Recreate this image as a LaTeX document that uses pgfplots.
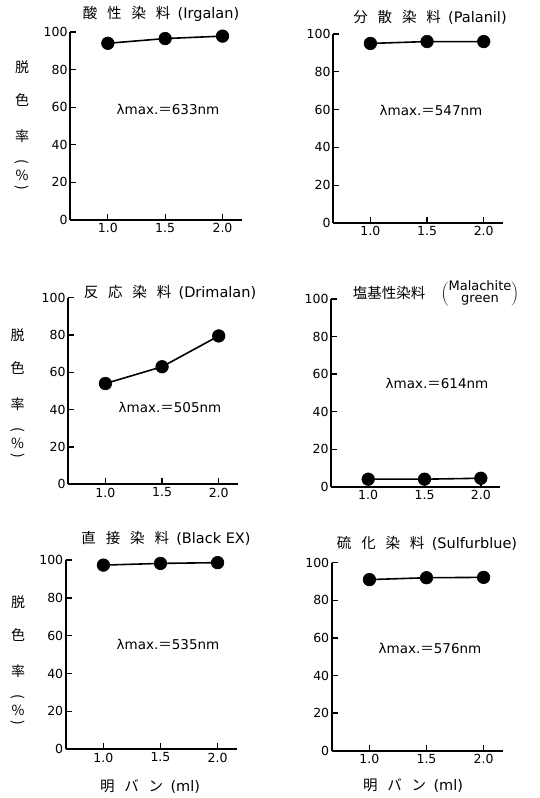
\documentclass[border=0pt]{standalone}
\usepackage{pgfplots}
\pgfplotsset{compat=1.18}
\usepackage{fontspec}
\setmainfont{DejaVu Sans}
\newfontfamily\jp{Noto Sans CJK JP}

\newcommand{\gap}{\hspace{0.68em}}

\pgfplotsset{
  panel/.style={
    scale only axis,
    anchor=south west,
    axis lines*=left,
    axis line style={line width=1.7pt},
    xmin=0.67, xmax=2.17, ymin=0, ymax=100,
    xtick={1,1.5,2}, xticklabels={1.0,1.5,2.0},
    ytick={0,20,...,100},
    tick align=inside,
    major tick length=6pt,
    tick style={line width=1.3pt, black},
    ticklabel style={font=\fontsize{12.5}{13}\selectfont},
    yticklabel style={xshift=1pt},
    /pgf/number format/assume math mode=true,
    clip=false,
  },
  dye/.style={black, line width=1.6pt, mark=*, mark size=6.3pt,
    mark options={fill=black, line width=0.6pt}},
}

\begin{document}
\begin{tikzpicture}
\path[use as bounding box] (0,0) rectangle (539pt,798pt);

% ---- top row ----
\begin{axis}[panel, at={(70pt,578pt)}, width=172pt, height=188pt]
  \addplot[dye] coordinates {(1,94) (1.5,96.5) (2,97.8)};
\end{axis}
\begin{axis}[panel, at={(333pt,575pt)}, width=170pt, height=189pt]
  \addplot[dye] coordinates {(1,95) (1.5,96) (2,96)};
\end{axis}

% ---- middle row ----
\begin{axis}[panel, at={(68pt,313.7pt)}, width=170pt, height=186.6pt]
  \addplot[dye] coordinates {(1,54) (1.5,63) (2,79.5)};
\end{axis}
\begin{axis}[panel, at={(331pt,311.3pt)}, width=169pt, height=187.7pt]
  \addplot[dye] coordinates {(1,4) (1.5,4) (2,4.5)};
\end{axis}

% ---- bottom row ----
\begin{axis}[panel, at={(65.7pt,48.7pt)}, width=171.3pt, height=189.3pt]
  \addplot[dye] coordinates {(1,97.3) (1.5,98.2) (2,98.6)};
\end{axis}
\begin{axis}[panel, at={(331.7pt,47.3pt)}, width=171.3pt, height=188pt]
  \addplot[dye] coordinates {(1,91) (1.5,92) (2,92.2)};
\end{axis}

% ---- panel titles ----
\begin{scope}[every node/.style={font=\fontsize{14.5}{15}\selectfont, inner sep=0pt}]
  \node at (161pt,784pt) {{\jp 酸\gap 性\gap 染\gap 料}\hspace{0.5em}(Irgalan)};
  \node at (430pt,781pt) {{\jp 分\gap 散\gap 染\gap 料}\hspace{0.5em}(Palanil)};
  \node at (170pt,506pt) {{\jp 反\gap 応\gap 染\gap 料}\hspace{0.5em}(Drimalan)};
  \node at (389pt,505pt) {\jp 塩基性染料};
  \node[font=\fontsize{13}{13}\selectfont] at (480pt,504pt)
    {$\left(\begin{tabular}{@{}c@{}}Malachite\\[-1pt]green\end{tabular}\right)$};
  \node at (166pt,260pt) {{\jp 直\gap 接\gap 染\gap 料}\hspace{0.5em}(Black EX)};
  \node at (427pt,255pt) {{\jp 硫\gap 化\gap 染\gap 料}\hspace{0.5em}(Sulfurblue)};
\end{scope}

% ---- absorption maxima ----
\begin{scope}[every node/.style={font=\fontsize{13.5}{14}\selectfont, inner sep=0pt}]
  \node at (168pt,689pt) {λmax.{\jp ＝}633nm};
  \node at (431pt,688pt) {λmax.{\jp ＝}547nm};
  \node at (170pt,391pt) {λmax.{\jp ＝}505nm};
  \node at (437pt,415pt) {λmax.{\jp ＝}614nm};
  \node at (168pt,154pt) {λmax.{\jp ＝}535nm};
  \node at (430pt,150pt) {λmax.{\jp ＝}576nm};
\end{scope}

% ---- vertical y labels ----
\begin{scope}[every node/.style={font=\jp\fontsize{14}{14}\selectfont, inner sep=0pt}]
  \foreach \x/\y in {22/731, 17.5/463, 18/196}{
    \node at (\x pt,\y pt) {脱};
    \node at (\x pt,\y pt-33pt) {色};
    \node at (\x pt,\y pt-69pt) {率};
    \node[rotate=-90] at (\x pt,\y pt-95pt) {(};
    \node at (\x pt,\y pt-108pt) {\%};
    \node[rotate=-90] at (\x pt,\y pt-121pt) {)};
  }
\end{scope}

% ---- x labels ----
\begin{scope}[every node/.style={font=\fontsize{14.5}{15}\selectfont, inner sep=0pt}]
  \node at (150pt,11pt) {{\jp 明\gap バ\gap ン}\hspace{0.5em}(ml)};
  \node at (413pt,12pt) {{\jp 明\gap バ\gap ン}\hspace{0.5em}(ml)};
\end{scope}
\end{tikzpicture}
\end{document}
